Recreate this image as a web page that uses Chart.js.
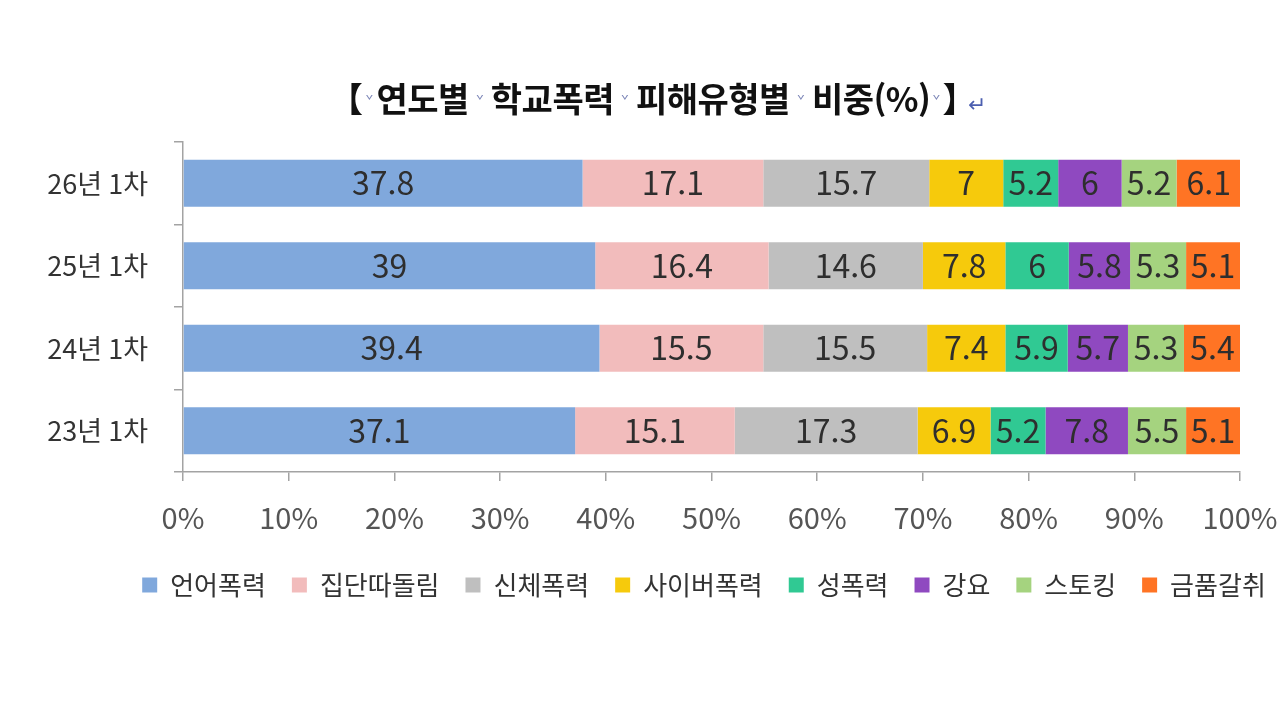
<!DOCTYPE html>
<html lang="ko">
<head>
<meta charset="utf-8">
<title>연도별 학교폭력 피해유형별 비중(%)</title>
<script src="https://cdn.jsdelivr.net/npm/chart.js@4.4.1/dist/chart.umd.min.js"></script>
<style>
  html, body { margin: 0; padding: 0; background: #fff; }
  #wrap { position: relative; width: 1280px; height: 720px; }
  #title {
    position: absolute; left: 329px; top: 78px;
    font: bold 34px 'Noto Sans CJK KR', sans-serif; color: #111;
    letter-spacing: -0.5px; line-height: 40px; white-space: nowrap;
  }
  #title .m {
    display: inline-block; width: 22px; text-align: center; letter-spacing: 0;
    font-size: 13px; font-weight: normal; color: #7d87b8; vertical-align: 7px;
  }
  #title .m.s { width: 14px; }
  #title .m.e { width: 12px; }
  #title .ret { font-size: 22px; font-weight: normal; color: #4c5fb0; margin-left: -8px; letter-spacing: 0; }
  canvas { position: absolute; left: 0; top: 0; }
</style>
</head>
<body>
<div id="wrap">
  <canvas id="chart" width="1280" height="720"></canvas>
  <div id="title">【<span class="m s">ˇ</span>연도별<span class="m">ˇ</span>학교폭력<span class="m">ˇ</span>피해유형별<span class="m">ˇ</span>비중(%)<span class="m e">ˇ</span>】<span class="ret">↵</span></div>
</div>
<script>
// ====
// Data
// ====
const years = ['26년 1차', '25년 1차', '24년 1차', '23년 1차'];
const types = ['언어폭력', '집단따돌림', '신체폭력', '사이버폭력', '성폭력', '강요', '스토킹', '금품갈취'];

const verbal    = [37.8, 39,   39.4, 37.1];
const exclusion = [17.1, 16.4, 15.5, 15.1];
const physical  = [15.7, 14.6, 15.5, 17.3];
const cyber     = [7,    7.8,  7.4,  6.9];
const sexual    = [5.2,  6,    5.9,  5.2];
const coercion  = [6,    5.8,  5.7,  7.8];
const stalking  = [5.2,  5.3,  5.3,  5.5];
const extortion = [6.1,  5.1,  5.4,  5.1];

const xTickValues = [0, 10, 20, 30, 40, 50, 60, 70, 80, 90, 100];

const colors = ['#80a8dc', '#f2bcbc', '#bfbfbf', '#f6ca0c', '#30c993', '#8f49c0', '#a5d37f', '#ff7424'];
const series = [verbal, exclusion, physical, cyber, sexual, coercion, stalking, extortion];

// =======
// Plugins
// =======

//  Values printed in the middle of each segment
const barLabels = {
  id: 'barLabels',
  afterDatasetsDraw(chart) {
    const ctx = chart.ctx;
    ctx.save();
    ctx.font = "32px 'Noto Sans CJK KR'";
    ctx.fillStyle = '#2e2e2e';
    ctx.textAlign = 'center';
    ctx.textBaseline = 'middle';
    chart.data.datasets.forEach((ds, i) => {
      chart.getDatasetMeta(i).data.forEach((bar, j) => {
        ctx.fillText(ds.data[j], (bar.x + bar.base) / 2, bar.y);
      });
    });
    ctx.restore();
  },
};

//  Legend sits a little right of the canvas centre
const legendShift = {
  id: 'legendShift',
  afterLayout(chart) {
    const lg = chart.legend;
    const dx = 704 - (lg.left + lg.right) / 2;
    lg.left += dx;
    lg.right += dx;
  },
};

// =====
// Chart
// =====
Chart.defaults.font.family = "'Noto Sans CJK KR', sans-serif";

const axisColor = '#a3a3a3';

new Chart(document.getElementById('chart'), {
  type: 'bar',
  data: {
    labels: years,
    datasets: types.map((name, i) => ({
      label: name,
      data: series[i],
      backgroundColor: colors[i],
      borderWidth: 0,
      categoryPercentage: 1,
      barPercentage: 0.57,
    })),
  },
  options: {
    indexAxis: 'y',
    responsive: false,
    animation: false,
    layout: {padding: {top: 142, right: 40, bottom: 112, left: 0}},
    plugins: {
      tooltip: {enabled: false},
      legend: {
        position: 'bottom',
        labels: {
          boxWidth: 15,
          boxHeight: 15,
          padding: 26,
          color: '#333',
          font: {size: 26},
        },
      },
    },
    scales: {
      x: {
        stacked: true,
        min: 0,
        max: 100,
        afterBuildTicks: (s) => { s.ticks = xTickValues.map(v => ({value: v})); },
        afterFit: (s) => {
          s.height = 74;
          s.paddingRight = 0;   // let layout.padding decide the right edge
        },
        ticks: {
          callback: (v) => v + '%',
          padding: 20,
          maxRotation: 0,
          color: '#555',
          font: {size: 29},
        },
        grid: {drawOnChartArea: false, tickLength: 9, color: axisColor, lineWidth: 1.5},
        border: {color: axisColor, width: 1.5},
      },
      y: {
        stacked: true,
        afterFit: (s) => { s.width = 183; },
        ticks: {
          padding: 26,
          color: '#333',
          font: {size: 27},
        },
        grid: {offset: true, drawOnChartArea: false, tickLength: 9, color: axisColor, lineWidth: 1.5},
        border: {color: axisColor, width: 1.5},
      },
    },
  },
  plugins: [barLabels, legendShift],
});
</script>
</body>
</html>
